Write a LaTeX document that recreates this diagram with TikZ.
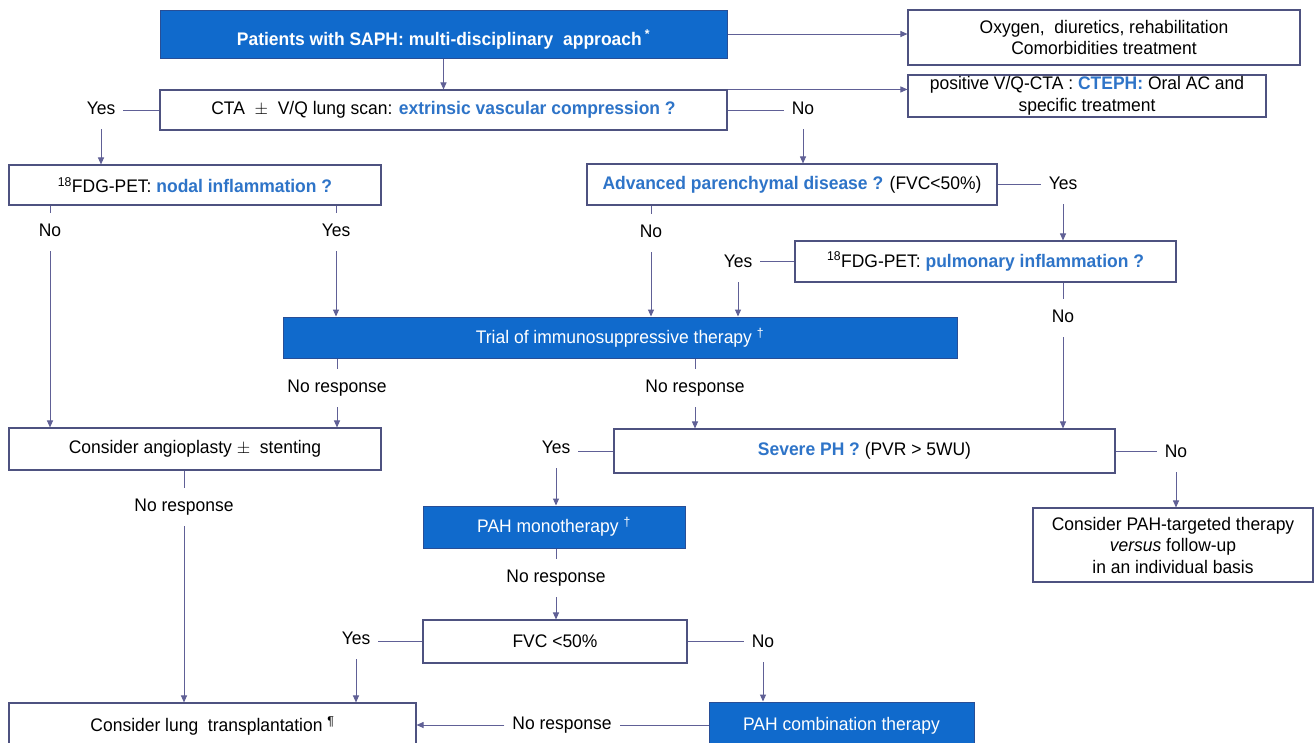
\documentclass[tikz,border=0pt]{standalone}
\usepackage{fontspec}
\setmainfont[FakeStretch=0.96]{Liberation Sans}
\usetikzlibrary{arrows.meta}
\definecolor{bfill}{RGB}{16,106,204}
\definecolor{bdraw}{RGB}{40,78,150}
\definecolor{tblue}{RGB}{46,116,200}
\definecolor{wdraw}{RGB}{78,82,128}
\definecolor{conn}{RGB}{96,96,150}
\begin{document}
\begin{tikzpicture}[x=1pt,y=-1pt,
  font=\fontsize{18.2}{21.5}\selectfont,
  wbox/.style={draw=wdraw, line width=1.1pt, fill=white, align=center, inner sep=0pt},
  bbox/.style={draw=bdraw, line width=1pt, fill=bfill, text=white, align=center, inner sep=0pt},
  lbl/.style={inner xsep=8pt, inner ysep=0pt, minimum height=38pt, text height=13pt, text depth=3.5pt},
  ln/.style={draw=conn, line width=1pt},
  arr/.style={draw=conn, line width=1pt, -{Triangle[length=7pt,width=6pt]}}]
\useasboundingbox (0,0) rectangle (1316,742);
\fill[white] (0,0) rectangle (1316,742);

% boxes
\node[bbox, minimum width=567, minimum height=48, text height=26pt, text depth=4pt] (top) at (443.5,34)
  {\textbf{Patients with SAPH: multi-disciplinary\ \ approach\,\textsuperscript{*}}};
\node[wbox, minimum width=392, minimum height=55] (oxy) at (1104,37.5)
  {Oxygen,\ \ diuretics, rehabilitation\\Comorbidities treatment};
\node[wbox, minimum width=567, minimum height=40] (cta) at (443.5,110)
  {CTA\ \ $\pm$\ \ V/Q lung scan: {\color{tblue}\bfseries extrinsic vascular compression ?}};
\node[wbox, minimum width=358, minimum height=42] (pos) at (1087,96)
  {positive V/Q-CTA : {\color{tblue}\bfseries CTEPH:} Oral AC and\\specific treatment};
\node[wbox, minimum width=372, minimum height=40] (nodal) at (195,185)
  {\textsuperscript{18}FDG-PET: {\color{tblue}\bfseries nodal inflammation ?}};
\node[wbox, minimum width=410, minimum height=41] (adv) at (792,184.5)
  {{\color{tblue}\bfseries Advanced parenchymal disease ?} (FVC<50\%)};
\node[wbox, minimum width=381, minimum height=41] (pulm) at (985.5,261.5)
  {\textsuperscript{18}FDG-PET: {\color{tblue}\bfseries pulmonary inflammation ?}};
\node[bbox, minimum width=674, minimum height=41] (trial) at (620,337.5)
  {Trial of immunosuppressive\ therapy \textsuperscript{†}};
\node[wbox, minimum width=372, minimum height=42] (angio) at (195,449)
  {Consider angioplasty $\pm$\ \ stenting};
\node[wbox, minimum width=501, minimum height=44] (severe) at (864.5,451)
  {{\color{tblue}\bfseries Severe PH ?} (PVR > 5WU)};
\node[wbox, minimum width=280, minimum height=74] (target) at (1173,545)
  {Consider PAH-targeted therapy\\\textit{versus} follow-up\\in an individual basis};
\node[bbox, minimum width=262, minimum height=42] (mono) at (554,527)
  {PAH monotherapy \textsuperscript{†}};
\node[wbox, minimum width=264, minimum height=43] (fvc) at (555,641.5)
  {FVC <50\%};
\node[wbox, minimum width=407, minimum height=46] (lung) at (212.5,726)
  {Consider lung\ \ transplantation \textsuperscript{¶}};
\node[bbox, minimum width=265, minimum height=47] (comb) at (841.5,725.5)
  {PAH combination therapy};

% labels
\node[lbl] (y1) at (101,110) {Yes};
\node[lbl] (n1) at (803,110) {No};
\node[lbl] (y2) at (1063,185) {Yes};
\node[lbl] (n2) at (50,232) {No};
\node[lbl] (y3) at (336,232) {Yes};
\node[lbl] (n3) at (651,233) {No};
\node[lbl] (y4) at (738,263) {Yes};
\node[lbl] (r1) at (337,388) {No response};
\node[lbl] (r2) at (695,388) {No response};
\node[lbl] (n4) at (1063,318) {No};
\node[lbl] (y5) at (556,449) {Yes};
\node[lbl] (n5) at (1176,453) {No};
\node[lbl] (r3) at (184,507) {No response};
\node[lbl] (r4) at (556,578) {No response};
\node[lbl] (y6) at (356,640) {Yes};
\node[lbl] (n6) at (763,643) {No};
\node[lbl] (r5) at (562,725) {No response};

% connectors
\draw[arr] (top.east) -- (top.east -| oxy.west);
\draw[arr] (top.south) -- (cta.north);
\draw[arr] (cta.north east) -- (cta.north east -| pos.west);
\draw[ln] (cta.west) -- (cta.west -| y1.east);
\draw[arr] (y1.south) -- (y1.south |- nodal.north);
\draw[ln] (cta.east) -- (cta.east -| n1.west);
\draw[arr] (n1.south) -- (n1.south |- adv.north);
\draw[ln] (adv.east) -- (adv.east -| y2.west);
\draw[arr] (y2.south) -- (y2.south |- pulm.north);
\draw[ln] (n2.north |- nodal.south) -- (n2.north);
\draw[arr] (n2.south) -- (n2.south |- angio.north);
\draw[ln] (y3.north |- nodal.south) -- (y3.north);
\draw[arr] (y3.south) -- (y3.south |- trial.north);
\draw[ln] (n3.north |- adv.south) -- (n3.north);
\draw[arr] (n3.south) -- (n3.south |- trial.north);
\draw[ln] (pulm.west) -- (pulm.west -| y4.east);
\draw[arr] (y4.south) -- (y4.south |- trial.north);
\draw[ln] (r1.north |- trial.south) -- (r1.north);
\draw[arr] (r1.south) -- (r1.south |- angio.north);
\draw[ln] (r2.north |- trial.south) -- (r2.north);
\draw[arr] (r2.south) -- (r2.south |- severe.north);
\draw[ln] (n4.north |- pulm.south) -- (n4.north);
\draw[arr] (n4.south) -- (n4.south |- severe.north);
\draw[ln] (severe.west) -- (severe.west -| y5.east);
\draw[arr] (y5.south) -- (y5.south |- mono.north);
\draw[ln] (severe.east) -- (severe.east -| n5.west);
\draw[arr] (n5.south) -- (n5.south |- target.north);
\draw[ln] (r3.north |- angio.south) -- (r3.north);
\draw[arr] (r3.south) -- (r3.south |- lung.north);
\draw[ln] (r4.north |- mono.south) -- (r4.north);
\draw[arr] (r4.south) -- (r4.south |- fvc.north);
\draw[ln] (fvc.west) -- (fvc.west -| y6.east);
\draw[arr] (y6.south) -- (y6.south |- lung.north);
\draw[ln] (fvc.east) -- (fvc.east -| n6.west);
\draw[arr] (n6.south) -- (n6.south |- comb.north);
\draw[ln] (comb.west |- r5) -- (r5.east);
\draw[arr] (r5.west) -- (r5.west -| lung.east);
\end{tikzpicture}
\end{document}
